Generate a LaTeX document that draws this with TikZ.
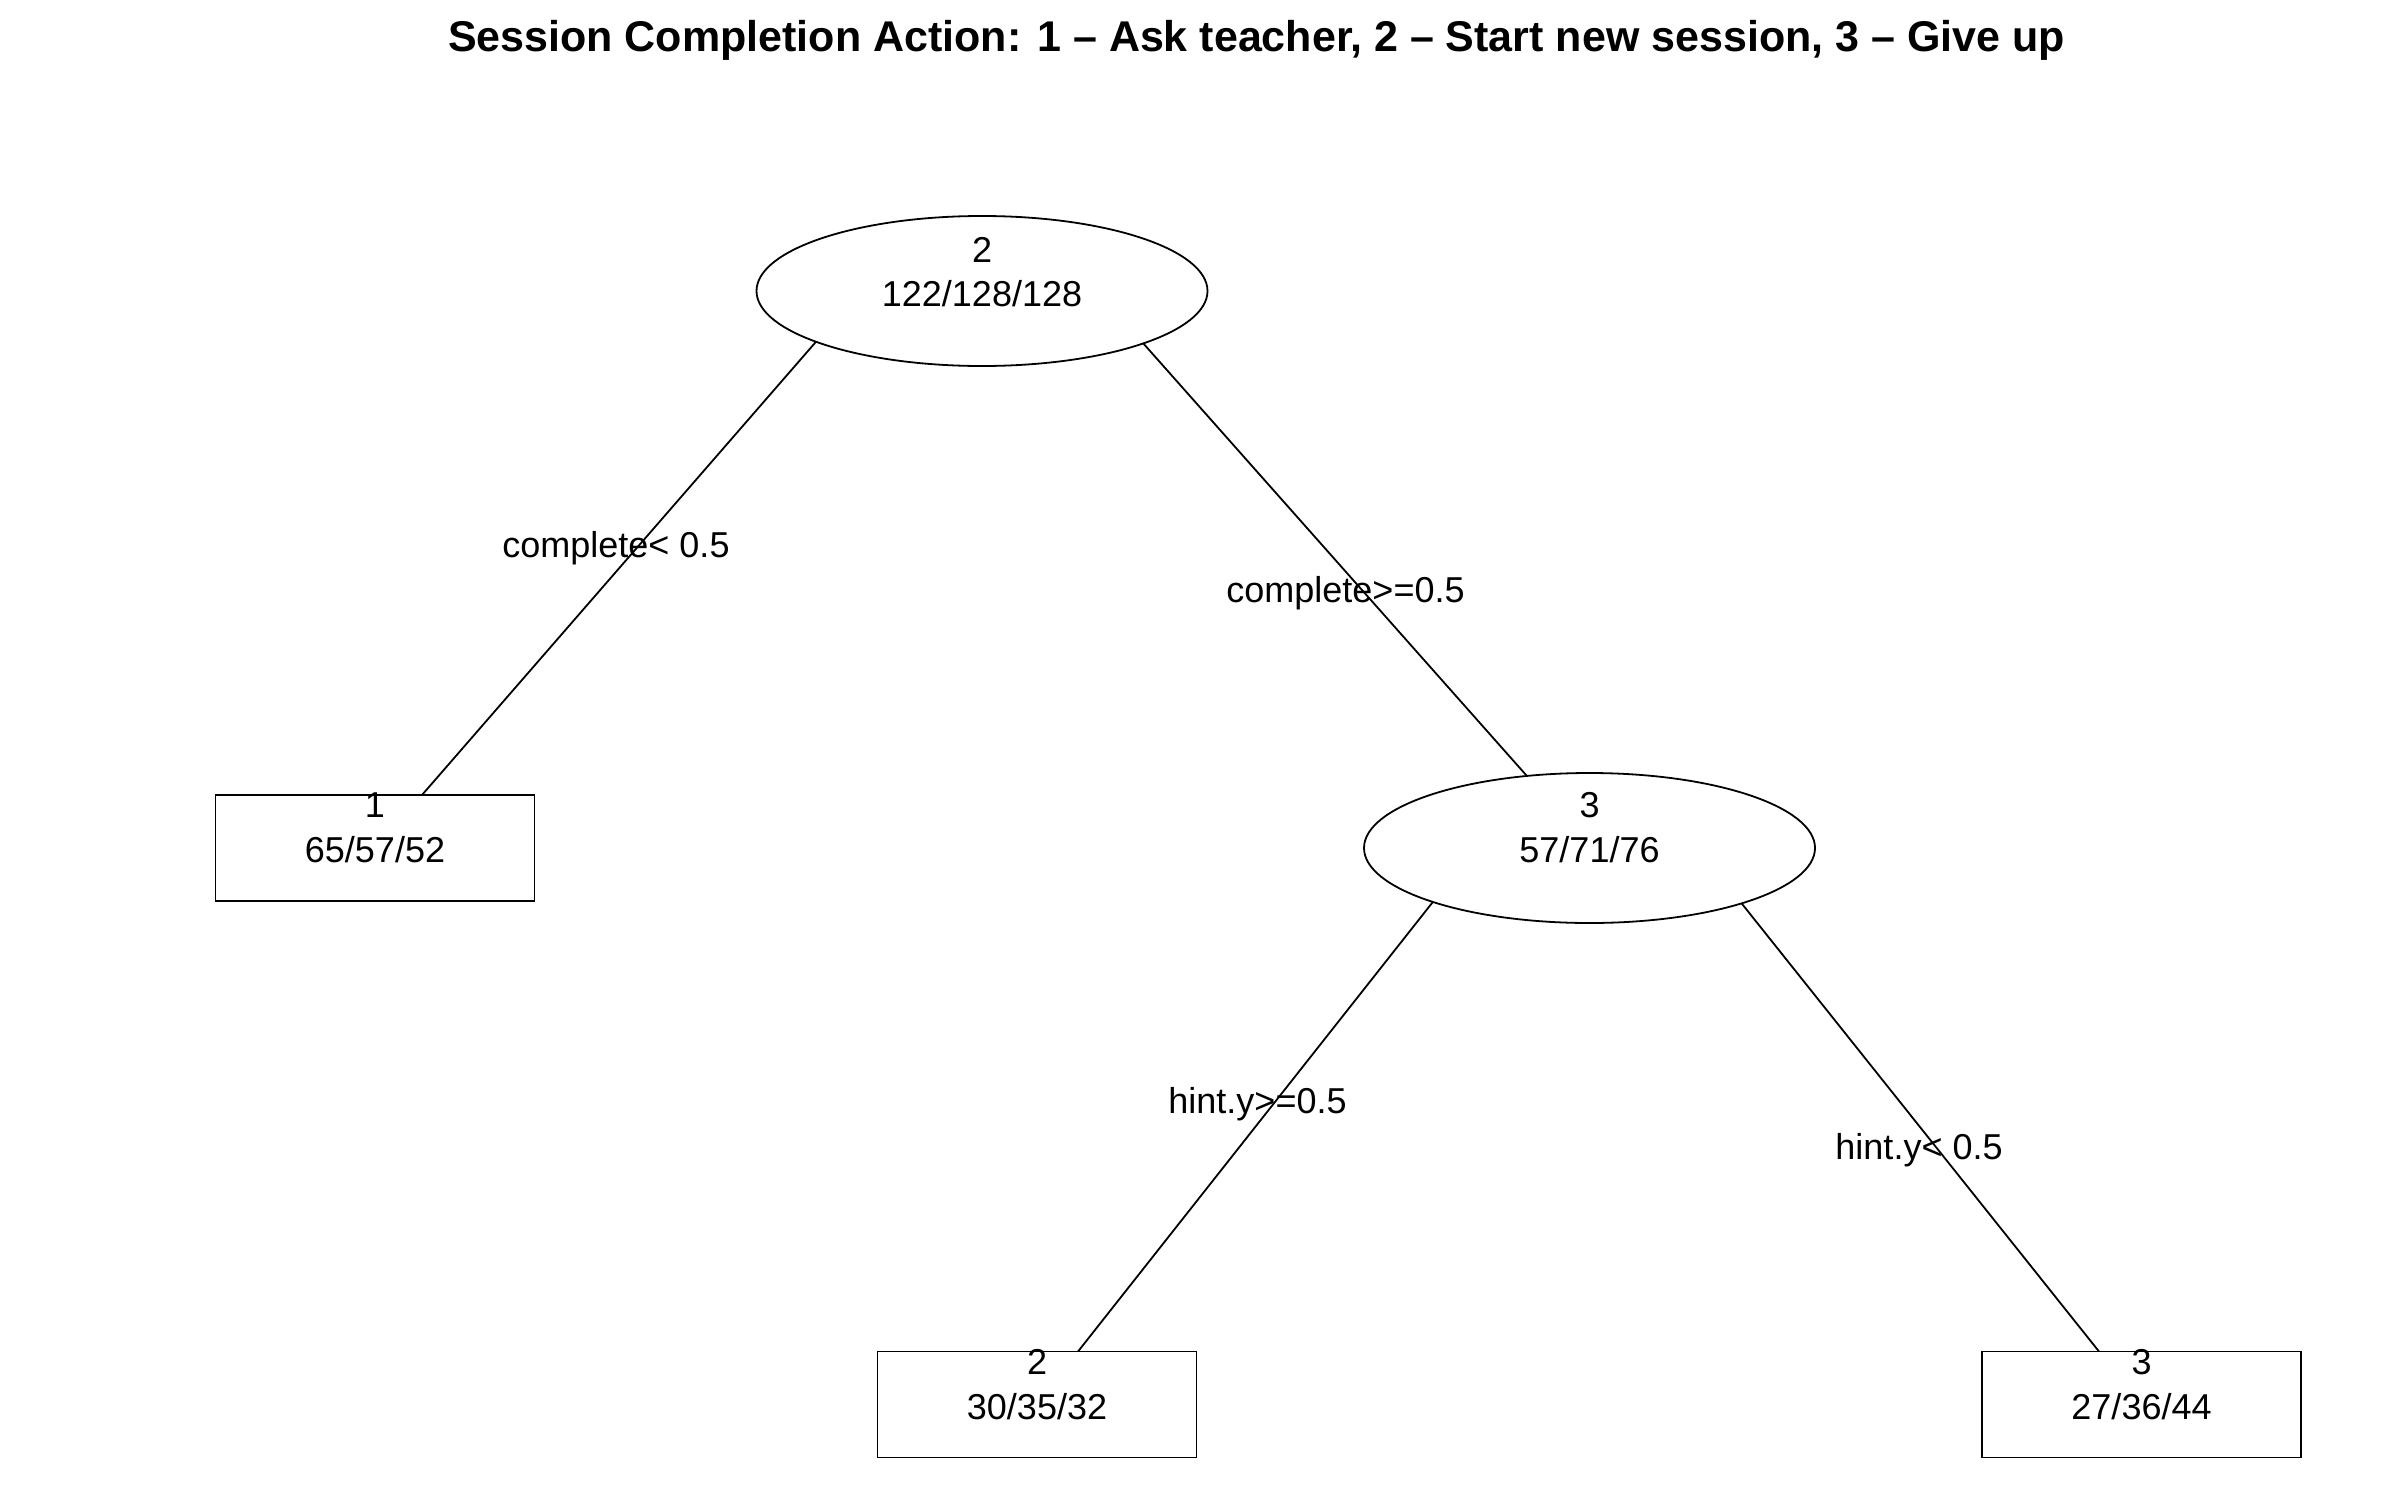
\documentclass[tikz,border=0pt]{standalone}
\usepackage{fontspec}
\setmainfont{Liberation Sans}
\usetikzlibrary{shapes.geometric}
\tikzset{
  ell/.style={draw, ellipse, line width=1.8pt, inner sep=0pt, outer sep=0pt, minimum width=451pt, minimum height=150pt},
  leaf/.style={draw, rectangle, line width=1.8pt, inner sep=0pt, outer sep=0pt, minimum width=319pt, minimum height=106pt},
  txt/.style={inner sep=0pt, anchor=base, font=\fontsize{36pt}{40pt}\selectfont},
  ttl/.style={inner sep=0pt, anchor=base, font=\fontsize{43pt}{48pt}\selectfont\bfseries},
  edge/.style={line width=1.8pt}
}
\begin{document}
\begin{tikzpicture}[x=1pt,y=-1pt]
\useasboundingbox[fill=white] (0,0) rectangle (2392,1488);
\node[ttl] (title) at (1256.5,52) {Session Completion Action: 1 – Ask teacher, 2 – Start new session, 3 – Give up};

% nodes
\node[ell] (root) at (982,291) {};
\node[ell] (mid) at (1589.5,848) {};
\node[leaf] (leafA) at (375,848) {};
\node[leaf] (leafB) at (1037,1404.5) {};
\node[leaf] (leafC) at (2141.5,1404.5) {};

% connectors
\draw[edge] (root.197) -- ([xshift=47pt]leafA.north);
\draw[edge] (root.342.8) -- (mid.131.5);
\draw[edge] (mid.199.2) -- ([xshift=41pt]leafB.north);
\draw[edge] (mid.340.7) -- ([xshift=-42.5pt]leafC.north);

% node texts
\node[txt] (rootcls) at (982,262) {2};
\node[txt] (rootn) at (982,306) {122/128/128};
\node[txt] (midcls) at (1589.5,817) {3};
\node[txt] (midn) at (1589.5,862) {57/71/76};
\node[txt] (leafAcls) at (375,817) {1};
\node[txt] (leafAn) at (375,862) {65/57/52};
\node[txt] (leafBcls) at (1037,1374) {2};
\node[txt] (leafBn) at (1037,1419) {30/35/32};
\node[txt] (leafCcls) at (2141.5,1374) {3};
\node[txt] (leafCn) at (2141.5,1419) {27/36/44};

% edge labels
\node[txt] (lab1) at (616,557) {complete< 0.5};
\node[txt] (lab2) at (1345.5,602) {complete>=0.5};
\node[txt] (lab3) at (1257.5,1113) {hint.y>=0.5};
\node[txt] (lab4) at (1919,1159) {hint.y< 0.5};
\end{tikzpicture}
\end{document}
